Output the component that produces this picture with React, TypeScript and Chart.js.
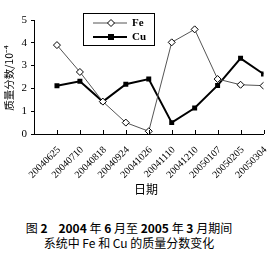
import React, { useEffect, useRef } from "react";
import { Chart, registerables } from "chart.js";

Chart.register(...registerables);

const categories = [
  "20040625", "20040710", "20040818", "20040924", "20041026",
  "20041110", "20041210", "20050107", "20050205", "20050304",
];
const feValues = [3.9, 2.72, 1.42, 0.5, 0.12, 4.02, 4.59, 2.41, 2.16, 2.12];
const cuValues = [2.12, 2.31, 1.42, 2.18, 2.41, 0.5, 1.14, 2.13, 3.32, 2.63];
const yTicks = [0, 1, 2, 3, 4, 5];
const seriesNames = ["Fe", "Cu"];
const yTitle = "质量分数/10⁻⁴";
const xTitle = "日期";

const SERIF = "'Liberation Serif', 'DejaVu Serif', serif";
const CJK = "'Noto Sans CJK SC', 'Noto Sans', sans-serif";

const overlayPlugin = {
  id: "overlay",
  afterDraw(chart: any) {
    const ctx = chart.ctx;
    const { bottom } = chart.chartArea;
    const xs = chart.scales.x;
    ctx.save();
    // inward x ticks
    ctx.strokeStyle = "#000";
    ctx.lineWidth = 1;
    categories.forEach((_, i) => {
      const px = Math.round(xs.getPixelForValue(i + 1)) + 0.5;
      ctx.beginPath();
      ctx.moveTo(px, bottom);
      ctx.lineTo(px, bottom - 4);
      ctx.stroke();
    });
    // legend box
    ctx.lineWidth = 1;
    ctx.strokeStyle = "#000";
    ctx.strokeRect(83.5, 13.5, 71, 32);
    const rows = [23, 37];
    chart.data.datasets.forEach((ds: any, i: number) => {
      const y = rows[i];
      ctx.beginPath();
      ctx.strokeStyle = ds.borderColor;
      ctx.lineWidth = ds.borderWidth;
      ctx.moveTo(93, y);
      ctx.lineTo(127, y);
      ctx.stroke();
      const mx = 111;
      if (ds.pointStyle === "rectRot") {
        ctx.beginPath();
        ctx.moveTo(mx, y - 3.5);
        ctx.lineTo(mx + 3.5, y);
        ctx.lineTo(mx, y + 3.5);
        ctx.lineTo(mx - 3.5, y);
        ctx.closePath();
        ctx.fillStyle = "#fff";
        ctx.fill();
        ctx.strokeStyle = "#000";
        ctx.lineWidth = 1;
        ctx.stroke();
      } else {
        ctx.fillStyle = "#000";
        ctx.fillRect(mx - 3, y - 3, 6, 6);
      }
      ctx.fillStyle = "#000";
      ctx.font = "bold 11px " + SERIF;
      ctx.textAlign = "left";
      ctx.textBaseline = "middle";
      ctx.fillText(ds.label, 132, y);
    });
    // y title
    ctx.save();
    ctx.translate(9, 78);
    ctx.rotate(-Math.PI / 2);
    ctx.font = "10.5px " + CJK;
    ctx.textAlign = "center";
    ctx.textBaseline = "middle";
    ctx.fillStyle = "#000";
    ctx.fillText(yTitle, 0, 0);
    ctx.restore();
    // x title
    ctx.font = "12px " + CJK;
    ctx.textAlign = "center";
    ctx.textBaseline = "middle";
    ctx.fillStyle = "#000";
    ctx.fillText(xTitle, 146, 189);
    ctx.restore();
  },
};

function ChartCanvas() {
  const ref = useRef<HTMLCanvasElement>(null);
  useEffect(() => {
    if (!ref.current) return;
    const chart = new Chart(ref.current, {
      type: "line",
      data: {
        datasets: [
          {
            label: seriesNames[0],
            data: feValues.map((v, i) => ({ x: i + 1, y: v })),
            borderColor: "#555",
            borderWidth: 1,
            pointStyle: "rectRot",
            pointRadius: 3.5,
            pointBackgroundColor: "#fff",
            pointBorderColor: "#000",
            pointBorderWidth: 1,
            tension: 0,
            order: 1,
          },
          {
            label: seriesNames[1],
            data: cuValues.map((v, i) => ({ x: i + 1, y: v })),
            borderColor: "#000",
            borderWidth: 2,
            pointStyle: "rect",
            pointRadius: 3.5,
            pointBackgroundColor: "#000",
            pointBorderColor: "#000",
            pointBorderWidth: 0,
            tension: 0,
            order: 2,
          },
        ],
      },
      options: {
        animation: false,
        responsive: false,
        maintainAspectRatio: false,
        layout: { padding: { left: 0, right: 7, top: 20, bottom: 0 } },
        plugins: {
          legend: { display: false },
          tooltip: { enabled: false },
        },
        scales: {
          x: {
            type: "linear",
            min: 0,
            max: categories.length,
            afterFit: (s: any) => {
              s.height = 66;
            },
            afterBuildTicks: (s: any) => {
              s.ticks = categories.map((_, i) => ({ value: i + 1 }));
            },
            ticks: {
              autoSkip: false,
              minRotation: 45,
              maxRotation: 45,
              padding: 2,
              labelOffset: 2,
              color: "#000",
              font: { family: SERIF, size: 10 },
              callback: (v: any) => categories[Number(v) - 1] ?? "",
            },
            grid: { display: false },
            border: { display: true, color: "#000", width: 1 },
          },
          y: {
            min: 0,
            max: 5,
            afterFit: (s: any) => {
              s.width = 34;
            },
            afterBuildTicks: (s: any) => {
              s.ticks = yTicks.map((v) => ({ value: v }));
            },
            ticks: {
              padding: 4,
              color: "#000",
              font: { family: SERIF, size: 11 },
            },
            grid: {
              drawOnChartArea: false,
              drawTicks: true,
              tickLength: 3,
              color: "#000",
            },
            border: { display: true, color: "#000", width: 1 },
          },
        },
      },
      plugins: [overlayPlugin],
    });
    return () => chart.destroy();
  }, []);
  return (
    <canvas
      ref={ref}
      width={274}
      height={200}
      style={{ position: "absolute", left: 0, top: 0, width: 274, height: 200 }}
    />
  );
}

export default function App() {
  const capStyle: React.CSSProperties = {
    position: "absolute",
    left: 0,
    width: 258,
    textAlign: "center",
    fontFamily: CJK,
    fontSize: 12,
    lineHeight: "15px",
    color: "#000",
    whiteSpace: "pre",
  };
  return (
    <div
      style={{
        position: "fixed",
        left: 0,
        top: 0,
        width: 274,
        height: 255,
        background: "#fff",
        overflow: "hidden",
      }}
    >
      <ChartCanvas />
      <div style={{ ...capStyle, top: 220 }}>
        图 <b>2</b>    <b>2004</b> 年 <b>6</b> 月至 <b>2005</b> 年 <b>3</b> 月期间
      </div>
      <div style={{ ...capStyle, top: 235 }}>系统中 Fe 和 Cu 的质量分数变化</div>
    </div>
  );
}
